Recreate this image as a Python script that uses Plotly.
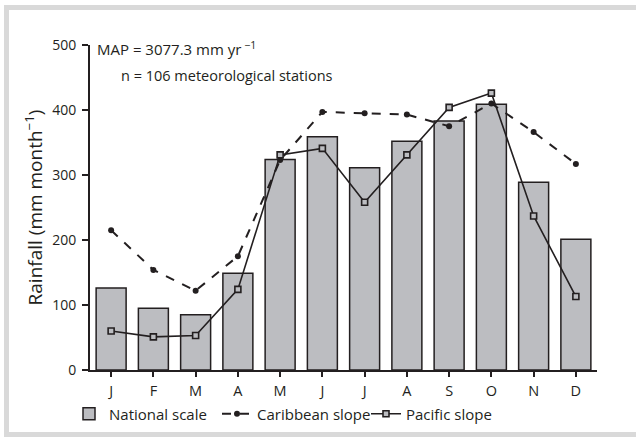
import plotly.graph_objects as go

months = ["J", "F", "M", "A", "M", "J", "J", "A", "S", "O", "N", "D"]
national = [126, 95, 85, 149, 324, 359, 311, 352, 383, 409, 289, 201]
caribbean = [215, 154, 122, 175, 323, 397, 395, 393, 375, 410, 366, 317]
pacific = [60, 51, 53, 124, 331, 341, 258, 331, 404, 426, 237, 113]
y_ticks = [0, 100, 200, 300, 400, 500]

x = list(range(len(months)))
ink = "#231f20"
font = "Open Sans"

W, H = 636, 441
L, R, T, B = 90, 39, 45, 71
pw, ph = W - L - R, H - T - B

def px(xp):
    return (xp - L) / pw

def py(yp):
    return (H - B - yp) / ph

fig = go.Figure()
fig.add_trace(go.Bar(
    x=x, y=national, name="National scale", legend="legend",
    marker=dict(color="#bcbdc1", line=dict(color=ink, width=1.5)),
))
fig.add_trace(go.Scatter(
    x=x, y=caribbean, name="Caribbean slope", mode="lines+markers", legend="legend2",
    line=dict(color=ink, width=2, dash="dash"),
    marker=dict(symbol="circle", size=6, color=ink),
))
fig.add_trace(go.Scatter(
    x=x, y=pacific, name="Pacific slope", mode="lines+markers", legend="legend3",
    line=dict(color=ink, width=1.6),
    marker=dict(symbol="square", size=6, color="#bcbdc1", line=dict(color=ink, width=1.6)),
))

def leg(xp):
    return dict(orientation="h", x=px(xp), xanchor="left", y=py(414), yanchor="middle",
                font=dict(size=15, family=font, color=ink), itemwidth=30,
                bgcolor="rgba(0,0,0,0)")

fig.update_layout(
    width=W, height=H,
    margin=dict(l=L, r=R, t=T, b=B, autoexpand=False),
    paper_bgcolor="white", plot_bgcolor="white",
    font=dict(family=font, color=ink, size=14),
    bargap=0.29,
    showlegend=True,
    legend=leg(69), legend2=leg(217), legend3=leg(366),
    xaxis=dict(
        tickmode="array", tickvals=x, ticktext=months,
        range=[-0.5, 11.5], showline=True, linecolor=ink, linewidth=2,
        ticks="outside", tickson="boundaries", ticklen=5, tickwidth=1.5, tickcolor=ink,
        ticklabelstandoff=2,
        showgrid=False, zeroline=False, tickfont=dict(size=14.5),
    ),
    yaxis=dict(
        range=[0, 500], tickvals=y_ticks, showline=True, linecolor=ink, linewidth=2,
        ticks="outside", ticklen=6, tickwidth=1.5, tickcolor=ink, ticklabelstandoff=3,
        showgrid=False, zeroline=False, tickfont=dict(size=14),
        title=dict(text="Rainfall (mm month<sup>\u22121</sup>)", font=dict(size=19), standoff=5),
    ),
)

fig.add_annotation(xref="paper", yref="paper", x=px(95), y=py(48), xanchor="left", yanchor="middle",
                   text="MAP = 3077.3 mm yr<sup> \u22121</sup>", showarrow=False, font=dict(size=15))
fig.add_annotation(xref="paper", yref="paper", x=px(119), y=py(75), xanchor="left", yanchor="middle",
                   text="n = 106 meteorological stations", showarrow=False, font=dict(size=14.5))

# light grey frame around the figure
frame = "#d9d9d9"
fig.add_shape(type="rect", xref="paper", yref="paper",
              x0=px(6.5), x1=px(650), y0=py(7.5), y1=py(434.5),
              line=dict(color=frame, width=5), fillcolor="rgba(0,0,0,0)", layer="below")

fig.write_html("out.html", config={"displayModeBar": False},
               post_script="document.body.style.margin='0';")
